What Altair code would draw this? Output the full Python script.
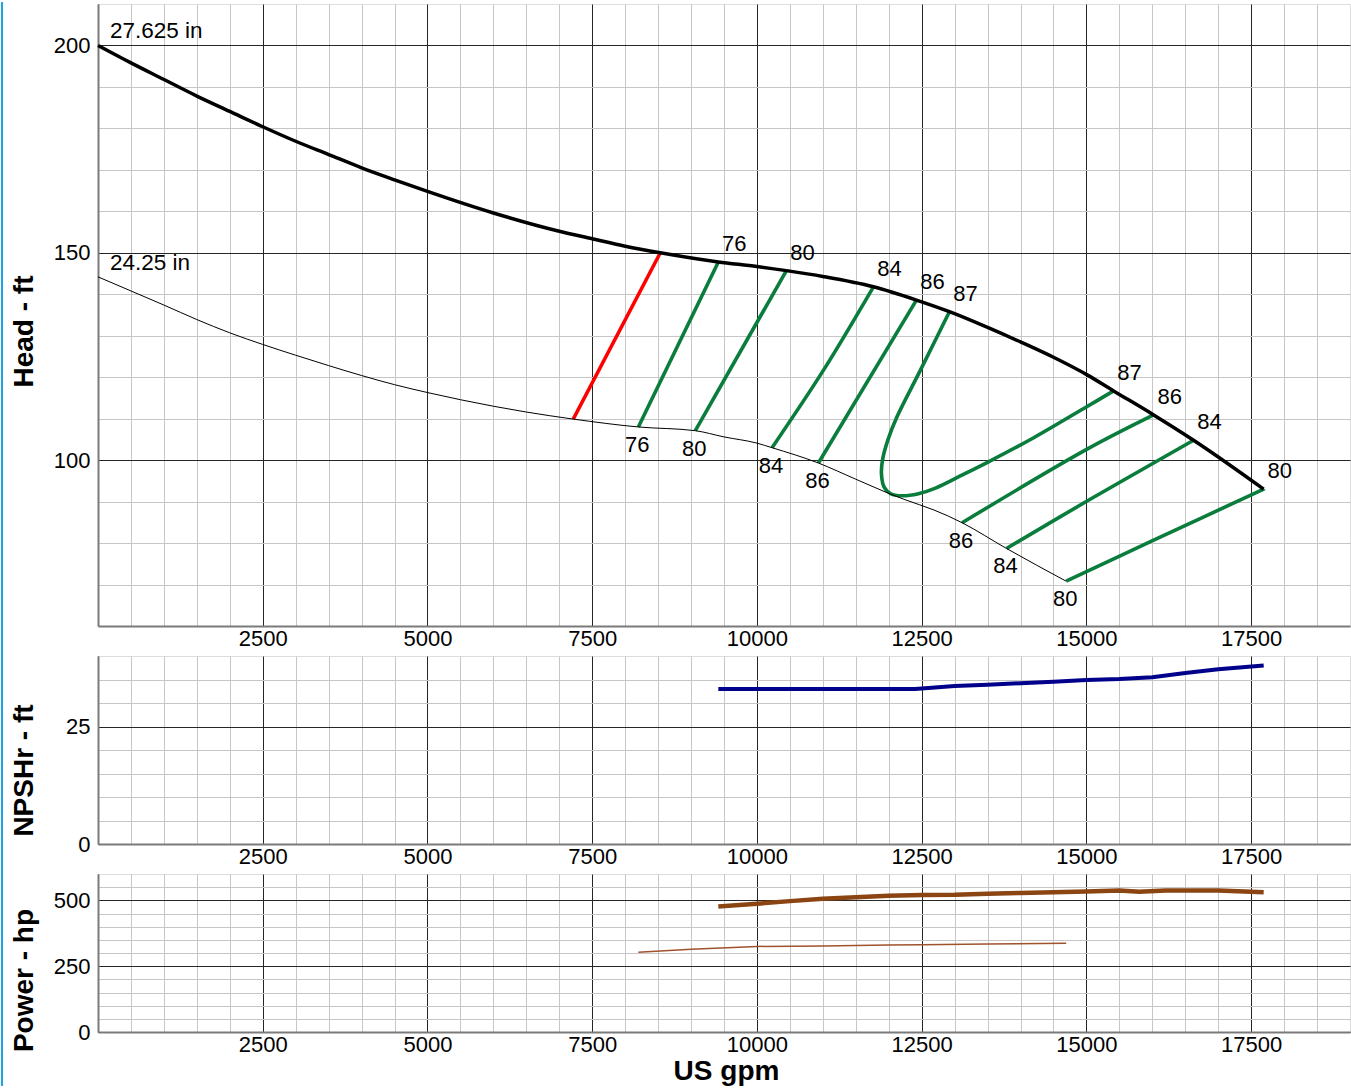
import altair as alt
import pandas as pd

FONT = "Liberation Sans"
Q_MAX = 19000

# ---- Head curves (US gpm, ft) ----
big_q = [0, 500, 1000, 1500, 2000, 2500, 3000, 3500, 4000, 4500, 5000, 6000, 7000,
         7500, 8000, 8533, 9414, 10000, 10447, 11000, 11768, 12420, 12921, 13500,
         14000, 14500, 15017, 15412, 16020, 16626, 17690]
big_h = [200.0, 195.8, 191.8, 187.8, 184.1, 180.4, 176.9, 173.7, 170.5, 167.6, 164.8,
         159.6, 155.2, 153.4, 151.6, 150.0, 147.8, 146.7, 145.7, 144.3, 141.8, 138.6,
         135.8, 132.0, 128.5, 124.8, 120.5, 116.7, 110.9, 104.8, 93.0]

small_q = [0, 500, 1000, 1500, 2000, 2500, 3000, 3500, 4000, 4500, 5000, 6000, 6500,
           7212, 8200, 9065, 9500, 10000, 10229, 10933, 11500, 12026, 12906, 13113,
           13787, 14693]
small_h = [144.2, 140.8, 137.4, 133.9, 130.7, 127.9, 125.3, 122.8, 120.4, 118.2, 116.3,
           113.0, 111.6, 109.9, 108.0, 107.1, 105.6, 104.1, 103.0, 99.3, 95.4, 91.8,
           86.5, 84.9, 78.7, 70.8]

curve_names = ["27.625 in", "24.25 in"]

# ---- Iso-efficiency lines (%), points ordered along each line ----
min_flow_q = [7212, 8533]
min_flow_h = [109.9, 150.0]

eff_values = [76, 80, 84, 86, 87, 86, 84, 80]
eff_q = [
    [8200, 9414],
    [9065, 10447],
    [10229, 11010, 11768],
    [10933, 12420],
    [12921, 12481, 12127, 11990, 11905, 11890, 11930, 12030, 12200, 12450, 12700,
     13100, 13514, 14200, 15017, 15412],
    [13113, 15017, 16020],
    [13787, 15017, 16626],
    [14693, 16020, 17690],
]
eff_h = [
    [108.0, 147.8],
    [107.1, 145.7],
    [103.0, 121.7, 141.8],
    [99.3, 138.6],
    [135.8, 121.7, 110.5, 105.0, 100.0, 96.5, 93.5, 91.9, 91.4, 91.9, 93.2,
     96.3, 99.6, 105.4, 113.0, 116.7],
    [84.9, 102.7, 110.9],
    [78.7, 90.2, 104.8],
    [70.8, 80.7, 93.0],
]
# where each line's first / last point gets its label
eff_start_pos = ["low", "low", "low", "low", "up", "low", "low", "low"]
eff_end_pos = ["up", "up", "up", "up", "up", "up", "up", "up"]

# ---- NPSHr (ft) ----
npsh_q = [9414, 10500, 11500, 12400, 12700, 13000, 13500, 14000, 14500, 15000, 15500,
          16000, 16500, 17000, 17690]
npsh_h = [33.0, 33.0, 33.0, 33.0, 33.3, 33.6, 33.9, 34.2, 34.5, 34.9, 35.1,
          35.5, 36.4, 37.2, 38.0]

# ---- Power (hp) ----
pow_big_q = [9414, 10000, 10500, 11000, 11500, 12000, 12500, 13000, 13500, 14000,
             14500, 15000, 15500, 15800, 16200, 17000, 17690]
pow_big = [477, 487, 497, 506, 512, 517, 520, 521, 525, 528, 531, 534, 537, 533,
           537, 537, 531]
pow_small_q = [8200, 9000, 10000, 11000, 12000, 12500, 13500, 14693]
pow_small = [303, 314, 325, 327, 330, 331, 334, 337]

# ---------------- tables ----------------
big_df = pd.DataFrame({"q": big_q, "h": big_h})
small_df = pd.DataFrame({"q": small_q, "h": small_h})
name_df = pd.DataFrame({"q": [big_q[0], small_q[0]], "h": [big_h[0], small_h[0]],
                        "name": curve_names})
min_df = pd.DataFrame({"q": min_flow_q, "h": min_flow_h})

rows, labels = [], []
for k, (eff, qs, hs) in enumerate(zip(eff_values, eff_q, eff_h)):
    for i, (q, h) in enumerate(zip(qs, hs)):
        rows.append({"line": k, "i": i, "q": q, "h": h})
    labels.append({"q": qs[0], "h": hs[0], "txt": str(eff), "pos": eff_start_pos[k]})
    labels.append({"q": qs[-1], "h": hs[-1], "txt": str(eff), "pos": eff_end_pos[k]})
eff_df = pd.DataFrame(rows)
lab_df = pd.DataFrame(labels)

npsh_df = pd.DataFrame({"q": npsh_q, "h": npsh_h})
pbig_df = pd.DataFrame({"q": pow_big_q, "h": pow_big})
psmall_df = pd.DataFrame({"q": pow_small_q, "h": pow_small})

# ---------------- axes ----------------
MAJOR = "#262626"
MINOR = "#c6c6c6"


def grid_axis(step_values, major_test, label_test, **extra):
    return alt.Axis(
        values=step_values,
        grid=True,
        gridColor={"condition": {"test": major_test, "value": MAJOR}, "value": MINOR},
        gridWidth=1,
        ticks=False,
        domainColor="#7a7a7a",
        domainWidth=2,
        format="d",
        labelExpr=f"({label_test}) ? datum.label : ''",
        labelOverlap=False,
        labelFlush=False,
        labelFont=FONT,
        labelFontSize=22,
        labelColor="#000000",
        titleFont=FONT,
        titleFontSize=28,
        titleFontWeight="bold",
        titleColor="#000000",
        **extra,
    )


# grid every 500 gpm; the last line sits on the plot edge
x_vals = list(range(0, Q_MAX, 500))
X_MAJOR = "datum.value % 2500 === 0"
X_LABEL = "datum.value % 2500 === 0 && datum.value > 0"


def x_enc(with_title=False):
    scale = alt.Scale(domain=[0, Q_MAX], nice=False)
    if with_title:
        ax = grid_axis(x_vals, X_MAJOR, X_LABEL, labelPadding=2, title="US gpm",
                       titleX=628, titleY=47, titleAlign="center",
                       titleBaseline="alphabetic")
        return alt.X("q:Q", scale=scale, axis=ax)
    ax = grid_axis(x_vals, X_MAJOR, X_LABEL, labelPadding=2)
    return alt.X("q:Q", scale=scale, axis=ax, title=None)


def y_enc(lo, hi, step, major, title, title_y):
    # grid lines below the top edge only (the view border draws the top one)
    vals = list(range(lo, hi, step))
    ax = grid_axis(vals, f"datum.value % {major} === 0", f"datum.value % {major} === 0",
                   labelPadding=8, title=title, titleX=-66, titleY=title_y,
                   titleAngle=270, titleAlign="center", titleBaseline="alphabetic")
    return alt.Y("h:Q", scale=alt.Scale(domain=[lo, hi], nice=False), axis=ax)


W = 1252

# ---------------- head panel ----------------
yh = y_enc(60, 210, 10, 50, "Head - ft", 327)
xh = x_enc()

edge = alt.Chart(pd.DataFrame({"a": [0]})).mark_rule(
    color="#1aa3e6", strokeWidth=2
).encode(x=alt.value(-96), y=alt.value(-2), y2=alt.value(1082))

min_line = alt.Chart(min_df).mark_line(color="#ff0000", strokeWidth=3.5).encode(x=xh, y=yh)

eff_lines = alt.Chart(eff_df).mark_line(
    color="#0a7d3d", strokeWidth=3.6, interpolate="catmull-rom"
).encode(x=xh, y=yh, detail="line:N", order="i:Q")

small_line = alt.Chart(small_df).mark_line(
    color="#000000", strokeWidth=1, interpolate="monotone"
).encode(x=xh, y=yh)
big_line = alt.Chart(big_df).mark_line(
    color="#000000", strokeWidth=3.5, interpolate="monotone"
).encode(x=xh, y=yh)

up_labels = alt.Chart(lab_df).transform_filter("datum.pos === 'up'").mark_text(
    font=FONT, fontSize=22, color="#000000", dx=16, dy=-18, align="center", baseline="middle"
).encode(x=xh, y=yh, text="txt:N")
low_labels = alt.Chart(lab_df).transform_filter("datum.pos === 'low'").mark_text(
    font=FONT, fontSize=22, color="#000000", dx=-1, dy=18, align="center", baseline="middle"
).encode(x=xh, y=yh, text="txt:N")

curve_labels = alt.Chart(name_df).mark_text(
    font=FONT, fontSize=22.5, color="#000000", dx=12, dy=-7, align="left", baseline="alphabetic"
).encode(x=xh, y=yh, text="name:N")

head = alt.layer(
    edge, min_line, eff_lines, small_line, big_line, up_labels, low_labels, curve_labels
).properties(width=W, height=622)

# ---------------- NPSHr panel ----------------
yn = y_enc(0, 40, 5, 25, "NPSHr - ft", 114)
npsh = alt.Chart(npsh_df).mark_line(color="#00008b", strokeWidth=4).encode(
    x=x_enc(), y=yn
).properties(width=W, height=188)

# ---------------- power panel ----------------
yp = y_enc(0, 600, 50, 250, "Power - hp", 106)
xp = x_enc(True)
p_small = alt.Chart(psmall_df).mark_line(color="#a0522d", strokeWidth=1.5).encode(x=xp, y=yp)
p_big = alt.Chart(pbig_df).mark_line(color="#8b4513", strokeWidth=4.5).encode(x=xp, y=yp)
power = alt.layer(p_small, p_big).properties(width=W, height=158)

chart = alt.vconcat(head, npsh, power, spacing=30, bounds="flush").properties(
    padding={"left": 0, "top": 0, "right": 0, "bottom": 0}
).configure_view(stroke="#c6c6c6", strokeWidth=1).configure(background="#ffffff")

chart.save("out.html", embed_options={"renderer": "svg", "actions": False})
